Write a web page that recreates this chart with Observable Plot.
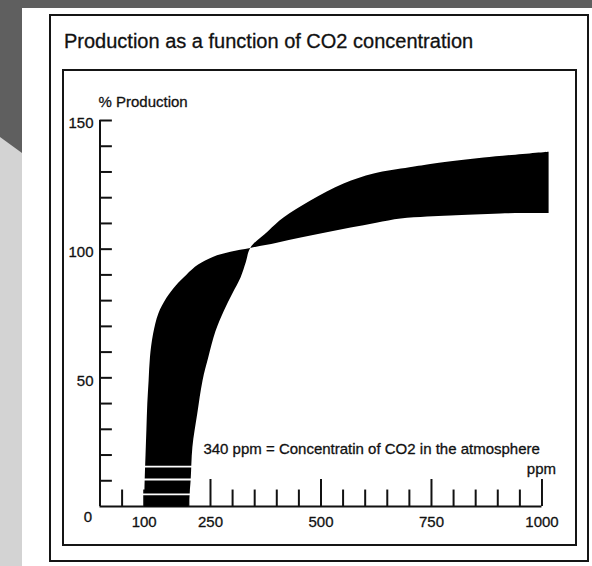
<!DOCTYPE html>
<html><head><meta charset="utf-8">
<script src="https://cdn.jsdelivr.net/npm/d3@7"></script>
<script src="https://cdn.jsdelivr.net/npm/@observablehq/plot@0.6"></script>
<style>
html,body{margin:0;padding:0;}
body{width:592px;height:566px;position:relative;overflow:hidden;background:#5f5f5f;font-family:"Liberation Sans",Arial,sans-serif;color:#111;}
#light{position:absolute;left:0;top:0;width:22px;height:566px;background:#d3d3d3;clip-path:polygon(0 137px,22px 153px,22px 566px,0 566px);}
#panel{position:absolute;left:22px;top:8px;width:570px;height:558px;background:#fff;}
#outer{position:absolute;left:49px;top:14px;width:540px;height:548px;border:2px solid #151515;box-sizing:border-box;}
#title{position:absolute;left:64px;top:31px;font-size:20px;line-height:20px;white-space:nowrap;-webkit-text-stroke:0.3px #111;}
#inner{position:absolute;left:62px;top:69px;width:515px;height:477px;border:2px solid #151515;box-sizing:border-box;}
#chart{position:absolute;left:63px;top:70px;}
#chart svg{display:block;background:transparent;}
</style></head>
<body>
<div id="light"></div>
<div id="panel"></div>
<div id="outer"></div>
<div id="title">Production as a function of CO2 concentration</div>
<div id="inner"></div>
<div id="chart"></div>
<script>
// Lower/left boundary of the band (flatter curve): [ppm, % production]
const curveFlat = [
  [100,0],[101,10],[103,20],[105,30],[107,40],[110,49],[113,58],[120,67],[132,75],
  [150,81],[172,86],[195,90],[222,94],[255,97],[295,99],[340,100.5],
  [400,102.5],[454,104.5],[510,106.5],[567,108.4],[625,110.3],[680,111.9],[740,112.7],
  [793,113.1],[906,113.9],[1015,114]
];
// Right/upper boundary of the band (steeper curve): [ppm, % production]
const curveSteep = [
  [200,0],[205,10],[209,23],[220,36],[232,49],[245,58],[261,68],[280,76],[300,83],
  [318,89],[330,95],[340,100.5],[380,107],[415,112.3],[476,118.9],[551,125.5],
  [619,129.4],[700,131.8],[755,133.3],[868,135.6],[1015,137.9]
];
const stripeLevels = [4.7, 10.5, 15.5];
const yTicks = [10,20,30,40,50,60,70,80,90,100,110,120,130,140,150];
const yLabels = [50, 100, 150];
const xMinorTicks = [50,100,150,200,300,350,400,450,550,600,650,700,800,850,900,950];
const xMajorTicks = [250, 500, 750, 1000];
const xLabels = [100, 250, 500, 750, 1000];
const yTitle = "% Production";
const xUnit = "ppm";
const note = "340 ppm = Concentratin of CO2 in the atmosphere";
const noteAt = [234, 22.1];

const band = [...curveFlat, ...curveSteep.slice().reverse()].map(([x, y]) => ({x, y}));

// Catmull-Rom on each boundary separately, joined by straight edges (one closed outline)
function splitCatmull(n) {
  return function(context) {
    let started = false, i = 0, inner;
    const proxy = {
      moveTo(x, y) { if (started) context.lineTo(x, y); else { context.moveTo(x, y); started = true; } },
      lineTo(x, y) { context.lineTo(x, y); },
      bezierCurveTo(a, b, c, d, e, f) { context.bezierCurveTo(a, b, c, d, e, f); },
      closePath() { context.closePath(); }
    };
    return {
      areaStart() {}, areaEnd() {},
      lineStart() { started = false; i = 0; inner = d3.curveCatmullRom(proxy); inner.lineStart(); },
      lineEnd() { inner.lineEnd(); },
      point(x, y) {
        if (i === n) { inner.lineEnd(); inner = d3.curveCatmullRom(proxy); inner.lineStart(); }
        inner.point(x, y); i++;
      }
    };
  };
}

const ink = "#111";
const txt = {fill: ink, stroke: ink, strokeWidth: 0.3};
const plot = Plot.plot({
  width: 513,
  height: 475,
  marginLeft: 36.5,
  marginRight: 27.9,
  marginTop: 50,
  marginBottom: 39,
  x: {domain: [0, 1015], axis: null},
  y: {domain: [0, 150], axis: null},
  style: {fontFamily: "'Liberation Sans', Arial, sans-serif", fontSize: "15px", color: ink, background: "transparent", overflow: "visible"},
  marks: [
    Plot.ruleX(xMinorTicks, {x: d => d, y1: 0, y2: 6.4, stroke: ink, strokeWidth: 2}),
    Plot.ruleX(xMajorTicks, {x: d => d, y1: 0, y2: 10.5, stroke: ink, strokeWidth: 2}),
    Plot.ruleY(yTicks, {y: d => d, x1: 0, x2: 28, stroke: ink, strokeWidth: 2}),
    Plot.ruleY([0], {x1: 0, x2: 1000, stroke: ink, strokeWidth: 2}),
    Plot.ruleX([0], {y1: 0, y2: 150, stroke: ink, strokeWidth: 2}),
    Plot.line(band, {x: "x", y: "y", fill: "black", stroke: "none", curve: splitCatmull(curveFlat.length)}),
    Plot.ruleY(stripeLevels, {y: d => d, x1: 95, x2: 215, stroke: "white", strokeWidth: 1.8}),
    Plot.text(yLabels, {x: 0, y: d => d, text: d => String(d), textAnchor: "end", dx: -6.5, dy: 3, ...txt}),
    Plot.text(xLabels, {x: d => d, y: 0, text: d => String(d), dy: 16, ...txt}),
    Plot.text(["0"], {x: 0, y: 0, text: d => d, dx: -12, dy: 11, ...txt}),
    Plot.text([yTitle], {x: 0, y: 150, text: d => d, textAnchor: "start", dx: -1.5, dy: -18, ...txt}),
    Plot.text([xUnit], {x: 1000, y: 0, text: d => d, textAnchor: "end", dx: 14, dy: -37.5, ...txt}),
    Plot.text([note], {x: noteAt[0], y: noteAt[1], text: d => d, textAnchor: "start", ...txt})
  ]
});
document.getElementById("chart").appendChild(plot);
</script>
</body></html>
